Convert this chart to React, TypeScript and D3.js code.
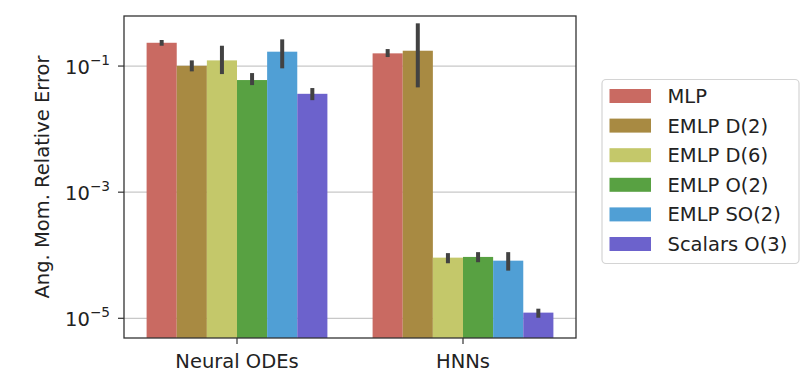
import * as d3 from "d3";

const groups = ["Neural ODEs", "HNNs"];
const models = ["MLP", "EMLP D(2)", "EMLP D(6)", "EMLP O(2)", "EMLP SO(2)", "Scalars O(3)"];
const colors = ["#c96a62", "#a88a42", "#c4c86a", "#58a142", "#509fd5", "#6c62cc"];

// mean values, one array per group, in model order
const neuralOdeValues = [0.234, 0.101, 0.123, 0.06, 0.169, 0.0363];
const hnnValues = [0.159, 0.175, 9.16e-5, 9.4e-5, 8.2e-5, 1.23e-5];

// error bar bounds (low, high)
const neuralOdeLow = [0.21, 0.0824, 0.0746, 0.0499, 0.092, 0.0288];
const neuralOdeHigh = [0.259, 0.123, 0.21, 0.0774, 0.265, 0.0448];
const hnnLow = [0.139, 0.0459, 7.46e-5, 7.75e-5, 5.7e-5, 1.02e-5];
const hnnHigh = [0.186, 0.476, 1.08e-4, 1.12e-4, 1.12e-4, 1.42e-5];

const yTicks = [1e-1, 1e-3, 1e-5];
const yTickExps = ["−1", "−3", "−5"];

const W = 806;
const H = 377;
const margin = { left: 124, right: 230, top: 16, bottom: 39 };
const FONT = "DejaVu Sans, sans-serif";
const FS = 19.5;

export default function App() {
  const x0 = d3
    .scaleBand<string>()
    .domain(groups)
    .range([margin.left, W - margin.right])
    .paddingInner(0.2)
    .paddingOuter(0.1);
  const x1 = d3.scaleBand<string>().domain(models).range([0, x0.bandwidth()]);
  const y = d3
    .scaleLog()
    .domain([4.87e-6, 0.622])
    .range([H - margin.bottom, margin.top]);

  const series = [
    { group: groups[0], values: neuralOdeValues, lo: neuralOdeLow, hi: neuralOdeHigh },
    { group: groups[1], values: hnnValues, lo: hnnLow, hi: hnnHigh },
  ];
  const bottom = H - margin.bottom;
  const right = W - margin.right;

  const legendX = 602;
  const legendY = 79.5;
  const rowH = 29.6;

  return (
    <svg width={W} height={H} style={{ position: "absolute", left: 0, top: 0, fontFamily: FONT }}>
      <rect width={W} height={H} fill="#fff" />
      {yTicks.map((t) => (
        <line key={t} x1={margin.left} x2={right} y1={y(t)} y2={y(t)} stroke="#c8c8c8" strokeWidth={1.2} />
      ))}
      {series.map((s) =>
        s.values.map((v, i) => {
          const bx = (x0(s.group) ?? 0) + (x1(models[i]) ?? 0);
          const cx = bx + x1.bandwidth() / 2;
          return (
            <g key={s.group + i}>
              <rect x={bx} y={y(v)} width={x1.bandwidth()} height={bottom - y(v)} fill={colors[i]} />
              <line x1={cx} x2={cx} y1={y(s.lo[i])} y2={y(s.hi[i])} stroke="#424242" strokeWidth={4} />
            </g>
          );
        })
      )}
      <rect
        x={margin.left}
        y={margin.top}
        width={right - margin.left}
        height={bottom - margin.top}
        fill="none"
        stroke="#333"
        strokeWidth={1.3}
      />
      {yTicks.map((t, i) => (
        <g key={t}>
          <line x1={margin.left - 6} x2={margin.left} y1={y(t)} y2={y(t)} stroke="#333" strokeWidth={1.2} />
          <text x={margin.left - 14} y={y(t) + 7.5} textAnchor="end" fontSize={FS} fill="#222">
            10
            <tspan dy={-9} fontSize={FS * 0.7}>
              {yTickExps[i]}
            </tspan>
          </text>
        </g>
      ))}
      {groups.map((g) => {
        const cx = (x0(g) ?? 0) + x0.bandwidth() / 2;
        return (
          <g key={g}>
            <line x1={cx} x2={cx} y1={bottom} y2={bottom + 6} stroke="#333" strokeWidth={1.2} />
            <text x={cx} y={bottom + 29.5} textAnchor="middle" fontSize={FS} fill="#222">
              {g}
            </text>
          </g>
        );
      })}
      <text
        transform={`translate(49, ${(margin.top + bottom) / 2}) rotate(-90)`}
        textAnchor="middle"
        fontSize={FS}
        fill="#222"
      >
        Ang. Mom. Relative Error
      </text>
      <rect
        x={legendX}
        y={legendY}
        width={197}
        height={184}
        rx={4}
        fill="#fff"
        stroke="#d4d4d4"
        strokeWidth={1.2}
      />
      {models.map((m, i) => (
        <g key={m}>
          <rect x={609.5} y={legendY + 16.5 + i * rowH - 7} width={41.5} height={14} fill={colors[i]} />
          <text x={667.5} y={legendY + 16.5 + i * rowH + 7} fontSize={FS} fill="#222">
            {m}
          </text>
        </g>
      ))}
    </svg>
  );
}
